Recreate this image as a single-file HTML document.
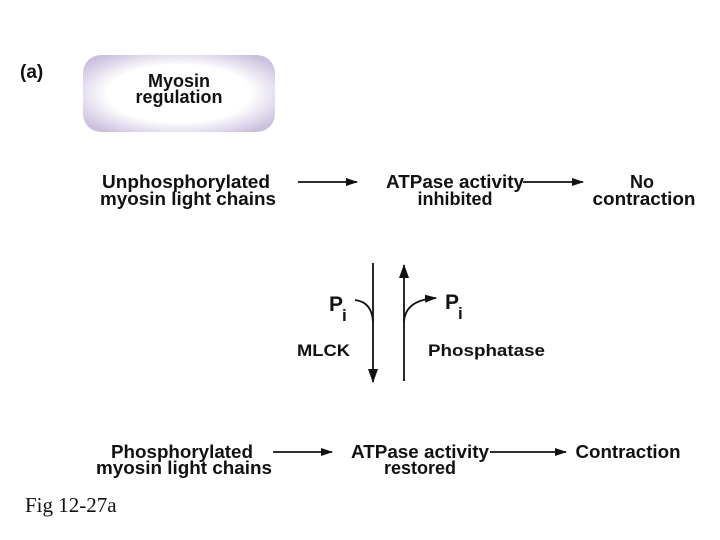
<!DOCTYPE html>
<html><head><style>
html,body{margin:0;padding:0;background:#fff;}
svg{display:block;}
text{font-family:"Liberation Sans",Arial,sans-serif;font-weight:bold;fill:#111;}
</style></head><body>
<svg width="720" height="540" viewBox="0 0 720 540" xmlns="http://www.w3.org/2000/svg">
<defs>
<radialGradient id="g" cx="50%" cy="50%" r="62%">
<stop offset="0.6" stop-color="#ffffff"/>
<stop offset="1" stop-color="#cbc0de"/>
</radialGradient>
<marker id="ah" markerWidth="12" markerHeight="8" refX="11" refY="4" orient="auto" markerUnits="userSpaceOnUse">
<path d="M0,0 L12,4 L0,8 Z" fill="#111"/>
</marker>
<marker id="av" markerWidth="14" markerHeight="10" refX="13" refY="5" orient="auto" markerUnits="userSpaceOnUse">
<path d="M0,0 L14,5 L0,10 Z" fill="#111"/>
</marker>
</defs>
<text x="20" y="78" font-size="19">(a)</text>
<rect x="83" y="55" width="192" height="77" rx="18" fill="url(#g)"/>
<text x="179" y="87" font-size="18" text-anchor="middle">Myosin</text>
<text x="179" y="103" font-size="18" text-anchor="middle">regulation</text>

<g font-size="18" text-anchor="middle">
<text x="186" y="188" textLength="168" lengthAdjust="spacingAndGlyphs">Unphosphorylated</text>
<text x="188" y="205" textLength="176" lengthAdjust="spacingAndGlyphs">myosin light chains</text>
<text x="455" y="188" textLength="138" lengthAdjust="spacingAndGlyphs">ATPase activity</text>
<text x="455" y="205">inhibited</text>
<text x="642" y="188">No</text>
<text x="644" y="205" textLength="103" lengthAdjust="spacingAndGlyphs">contraction</text>

<text x="182" y="458" textLength="142" lengthAdjust="spacingAndGlyphs">Phosphorylated</text>
<text x="184" y="474" textLength="176" lengthAdjust="spacingAndGlyphs">myosin light chains</text>
<text x="420" y="458" textLength="138" lengthAdjust="spacingAndGlyphs">ATPase activity</text>
<text x="420" y="474">restored</text>
<text x="628" y="458" textLength="105" lengthAdjust="spacingAndGlyphs">Contraction</text>
</g>

<line x1="298" y1="182" x2="357" y2="182" stroke="#111" stroke-width="1.8" marker-end="url(#ah)"/>
<line x1="523" y1="182" x2="583" y2="182" stroke="#111" stroke-width="1.8" marker-end="url(#ah)"/>
<line x1="273" y1="452" x2="332" y2="452" stroke="#111" stroke-width="1.8" marker-end="url(#ah)"/>
<line x1="490" y1="452" x2="566" y2="452" stroke="#111" stroke-width="1.8" marker-end="url(#ah)"/>

<line x1="373" y1="263" x2="373" y2="382" stroke="#111" stroke-width="1.8" marker-end="url(#av)"/>
<line x1="404" y1="381" x2="404" y2="265" stroke="#111" stroke-width="1.8" marker-end="url(#av)"/>
<path d="M355,300 Q372,302 373,322" fill="none" stroke="#111" stroke-width="1.8"/>
<path d="M404,322 Q405,300 436,298" fill="none" stroke="#111" stroke-width="1.8" marker-end="url(#ah)"/>

<text x="329" y="311" font-size="21">P</text>
<text x="342" y="321" font-size="17">i</text>
<text x="445" y="309" font-size="21">P</text>
<text x="458" y="319" font-size="17">i</text>
<text x="297" y="356" font-size="17" textLength="53" lengthAdjust="spacingAndGlyphs">MLCK</text>
<text x="428" y="356" font-size="17" textLength="117" lengthAdjust="spacingAndGlyphs">Phosphatase</text>

<text x="25" y="512" font-size="21" style="font-family:'Liberation Serif',serif;font-weight:normal">Fig 12-27a</text>
</svg>
</body></html>
